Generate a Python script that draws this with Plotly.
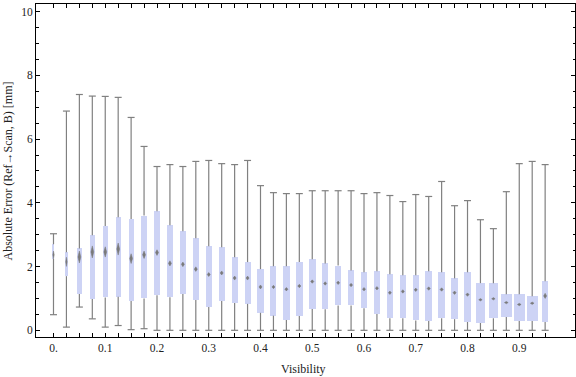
import plotly.graph_objects as go

# ---------------- data ----------------
visibility = [0.000, 0.025, 0.050, 0.075, 0.100, 0.125, 0.150, 0.175, 0.200, 0.225,
              0.250, 0.275, 0.300, 0.325, 0.350, 0.375, 0.400, 0.425, 0.450, 0.475,
              0.500, 0.525, 0.550, 0.575, 0.600, 0.625, 0.650, 0.675, 0.700, 0.725,
              0.750, 0.775, 0.800, 0.825, 0.850, 0.875, 0.900, 0.925, 0.950]

whisker_low = [0.49, 0.10, 0.73, 0.36, 0.10, 0.15, 0.02, 0.05, 0.00, 0.00,
               0.00, 0.00, 0.00, 0.00, 0.00, 0.00, 0.00, 0.00, 0.00, 0.00,
               0.00, 0.00, 0.00, 0.00, 0.00, 0.00, 0.00, 0.00, 0.00, 0.00,
               0.00, 0.00, 0.00, 0.00, 0.00, 0.00, 0.00, 0.00, 0.00]

q1 = [2.25, 1.70, 1.14, 0.98, 1.03, 1.05, 0.92, 1.00, 1.10, 1.04,
      1.14, 0.95, 0.73, 0.92, 0.86, 0.83, 0.55, 0.46, 0.32, 0.45,
      0.67, 0.66, 0.78, 0.78, 0.69, 0.51, 0.38, 0.38, 0.31, 0.29,
      0.38, 0.35, 0.26, 0.23, 0.38, 0.42, 0.29, 0.29, 0.26]

mean = [2.37, 2.15, 2.30, 2.46, 2.46, 2.55, 2.25, 2.37, 2.44, 2.10,
        2.07, 1.92, 1.75, 1.80, 1.64, 1.64, 1.36, 1.36, 1.29, 1.39,
        1.53, 1.47, 1.49, 1.42, 1.29, 1.32, 1.18, 1.22, 1.27, 1.31,
        1.28, 1.18, 1.12, 0.96, 0.99, 0.87, 0.81, 0.85, 1.08]

mean_ci = [0.13, 0.16, 0.21, 0.21, 0.18, 0.21, 0.17, 0.13, 0.10, 0.09,
           0.08, 0.08, 0.07, 0.07, 0.07, 0.07, 0.07, 0.06, 0.06, 0.06,
           0.06, 0.06, 0.06, 0.06, 0.06, 0.06, 0.06, 0.06, 0.06, 0.06,
           0.06, 0.06, 0.06, 0.03, 0.03, 0.02, 0.02, 0.02, 0.09]

q3 = [2.70, 2.45, 2.57, 2.98, 3.27, 3.55, 3.49, 3.60, 3.74, 3.30,
      3.11, 2.89, 2.64, 2.61, 2.29, 2.14, 1.92, 2.01, 2.01, 2.14,
      2.23, 2.10, 2.03, 1.88, 1.82, 1.85, 1.76, 1.73, 1.73, 1.85,
      1.82, 1.63, 1.82, 1.48, 1.48, 1.13, 1.13, 1.07, 1.54]

whisker_high = [3.03, 6.88, 7.40, 7.35, 7.34, 7.31, 6.68, 5.77, 5.14, 5.20,
                5.14, 5.30, 5.33, 5.23, 5.20, 5.33, 4.54, 4.32, 4.29, 4.29,
                4.38, 4.38, 4.38, 4.38, 4.29, 4.32, 4.23, 4.04, 4.26, 4.20,
                4.67, 3.91, 4.07, 3.47, 3.19, 4.35, 5.23, 5.30, 5.20]

# relative box width (proportional to sample weight of each bin)
rel_width = [0.14, 0.25, 0.43, 0.45, 0.45, 0.45, 0.45, 0.48, 0.55, 0.55,
             0.55, 0.55, 0.55, 0.55, 0.55, 0.55, 0.55, 0.55, 0.64, 0.64,
             0.64, 0.57, 0.55, 0.55, 0.55, 0.55, 0.55, 0.55, 0.55, 0.64,
             0.64, 0.64, 0.64, 0.82, 0.82, 1.00, 1.00, 1.00, 0.55]

x_tick_vals = [0.0, 0.1, 0.2, 0.3, 0.4, 0.5, 0.6, 0.7, 0.8, 0.9]
x_tick_text = ["0.", "0.1", "0.2", "0.3", "0.4", "0.5", "0.6", "0.7", "0.8", "0.9"]
y_tick_vals = [0, 2, 4, 6, 8, 10]
y_tick_text = ["0", "2", "4", "6", "8", "10"]

# ---------------- style ----------------
X_RANGE = [-0.0338, 1.0077]
Y_RANGE = [-0.21, 10.24]
PX_PER_X = 517.5          # pixels per x unit in the plot area
MAX_W = 11.0 / PX_PER_X    # widest box, in x units
BOX_COLOR = "#CDD3F5"
WHISK_COLOR = "#808080"
DIAM_COLOR = "#7A7A7A"
FONT = "Liberation Serif"

widths = [r * MAX_W for r in rel_width]

fig = go.Figure()

# whiskers (outside the box only)
wx, wy = [], []
for x, lo, a, b, hi in zip(visibility, whisker_low, q1, q3, whisker_high):
    wx += [x, x, None, x, x, None]
    wy += [lo, a, None, b, hi, None]
fig.add_trace(go.Scatter(x=wx, y=wy, mode="lines",
                         line=dict(color=WHISK_COLOR, width=1.2),
                         hoverinfo="skip"))

# whisker caps
fig.add_trace(go.Scatter(x=visibility + visibility, y=whisker_high + whisker_low,
                         mode="markers",
                         marker=dict(symbol="line-ew", size=5,
                                     line=dict(color=WHISK_COLOR, width=1.2)),
                         hoverinfo="skip"))

# IQR boxes
fig.add_trace(go.Bar(x=visibility, y=[b - a for a, b in zip(q1, q3)], base=q1,
                     width=widths, marker=dict(color=BOX_COLOR, line=dict(width=0)),
                     hoverinfo="skip"))

# mean diamonds
dx, dy = [], []
min_hh = 1.2 / 31.87
for x, m, ci, w in zip(visibility, mean, mean_ci, widths):
    hw = (1.1 + 0.07 * w * PX_PER_X) / PX_PER_X
    hw = min(hw, w / 2) if w * PX_PER_X > 3 else hw * 0.6
    hh = max(ci * 0.9, min_hh)
    dx += [x - hw, x, x + hw, x, x - hw, None]
    dy += [m, m + hh, m, m - hh, m, None]
fig.add_trace(go.Scatter(x=dx, y=dy, mode="lines", fill="toself",
                         fillcolor=DIAM_COLOR, line=dict(color=DIAM_COLOR, width=0.5),
                         hoverinfo="skip"))

axis_common = dict(showline=True, linecolor="black", linewidth=1, mirror="ticks",
                   ticks="inside", tickcolor="black", showgrid=False, zeroline=False,
                   tickfont=dict(family=FONT, size=11.5, color="#222222"))

fig.update_layout(
    width=576, height=377,
    margin=dict(l=36, r=1, t=4, b=40),
    plot_bgcolor="white", paper_bgcolor="white",
    showlegend=False, bargap=0,
    font=dict(family=FONT, size=12, color="#222222"),
    xaxis=dict(range=X_RANGE, tickvals=visibility,
               ticktext=[x_tick_text[x_tick_vals.index(v)] if v in x_tick_vals else ""
                         for v in visibility],
               ticklen=4, **axis_common),
    yaxis=dict(range=Y_RANGE, tickvals=y_tick_vals, ticktext=y_tick_text,
               ticklen=4,
               minor=dict(tickvals=[i * 0.5 for i in range(21)], ticklen=2.5,
                          ticks="inside", tickcolor="black"),
               **axis_common),
    annotations=[
        dict(text="Visibility", xref="paper", yref="paper", x=0.497, y=-0.096,
             xanchor="center", yanchor="middle", showarrow=False,
             font=dict(family=FONT, size=12, color="#222222")),
        dict(text="Absolute Error (Ref\u2192Scan, B) [mm]", xref="paper", yref="paper",
             x=-0.052, y=0.5, xanchor="center", yanchor="middle", textangle=-90,
             showarrow=False, font=dict(family=FONT, size=12, color="#222222")),
    ],
)

fig.write_html("out.html", config={"displayModeBar": False},
               post_script="document.body.style.margin='0';document.body.style.overflow='hidden';")
